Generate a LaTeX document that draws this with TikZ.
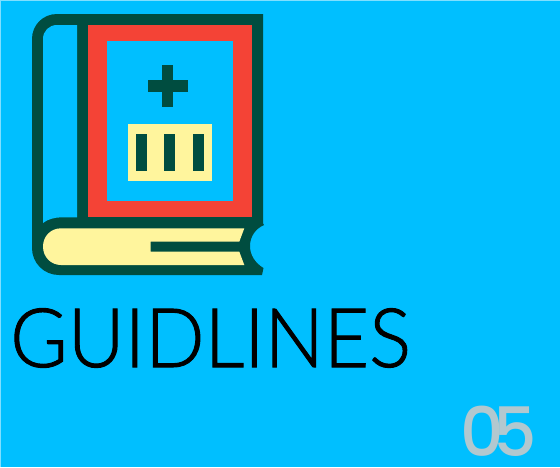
\documentclass[tikz,border=0pt]{standalone}
\usepackage{fontspec}
\setmainfont[FakeBold=1.2]{Lato Light}
\newfontfamily\numfont{Poppins Medium}
\definecolor{skyblue}{HTML}{00BFFF}
\definecolor{edgeblue}{HTML}{80DFFF}
\definecolor{darkgreen}{HTML}{004D40}
\definecolor{coverred}{HTML}{F44336}
\definecolor{pageyellow}{HTML}{FFF59D}
\definecolor{numgrey}{HTML}{B2C8CF}
\tikzset{
  dark/.style={fill=darkgreen},
  bar/.style={fill=darkgreen},
  title/.style={anchor=base west, inner sep=0pt, text=black},
  number/.style={anchor=base west, inner sep=0pt, text=numgrey}
}

\begin{document}
\begin{tikzpicture}[x=1pt,y=-1pt]
\useasboundingbox (0,0) rectangle (560,467);
\fill[edgeblue] (0,0) rectangle (560,467);
\fill[skyblue] (1,1) rectangle (560,467);
% book outline
\fill[dark] (57,14) -- (263,14) -- (263,223) -- (264,225) .. controls (255,229) and (250,237) .. (250,246)
  .. controls (250,255) and (255,263) .. (263.5,268) -- (262,275) -- (59,275)
  .. controls (44,275) and (32,263) .. (32,248) -- (32,39) .. controls (32,25) and (43,14) .. (57,14) -- cycle;
% spine
\fill[skyblue] (77,25) -- (57,25) .. controls (49,25) and (43,31) .. (43,39) -- (43,223)
  .. controls (48,219) and (55,217.3) .. (62,217.3) -- (77,217.3) -- cycle;
% cover
\fill[coverred] (88,25) rectangle (252,217.3);
\fill[skyblue] (107,41) rectangle (233,201);
% plus
\fill[bar] (147.5,80) rectangle (188,91.5);
\fill[bar] (162.3,65) rectangle (173.3,107);
% label
\fill[pageyellow] (127.7,123.7) rectangle (212.3,181.3);
\foreach \x in {136,164.3,192.7}
  \fill[bar] (\x,134.3) rectangle (\x+11,170.7);
% pages
\fill[pageyellow] (61,228.3) -- (244.3,228.3) -- (239.3,241.7) -- (150.7,241.7) -- (150.7,251.7) -- (239.3,251.7)
  -- (244.3,265) -- (61,265) .. controls (51,265) and (43,257) .. (43,246.6) .. controls (43,236) and (51,228.3) .. (61,228.3) -- cycle;
\node[title, xscale=0.955] (heading) at (10,367) {\fontsize{82}{82}\selectfont GUIDLINES};
\node[number] (pagenum) at (460,456) {\fontsize{68}{68}\selectfont\numfont 0\kern-10pt 5};
\end{tikzpicture}
\end{document}
